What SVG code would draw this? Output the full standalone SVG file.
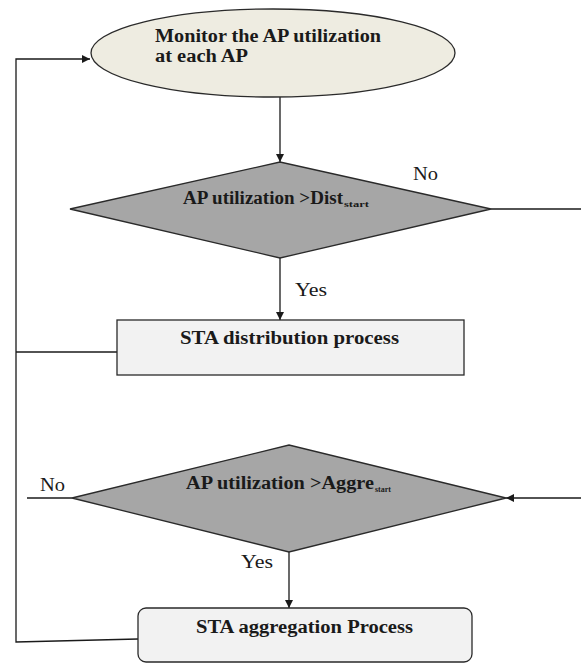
<svg xmlns="http://www.w3.org/2000/svg" width="581" height="663" viewBox="0 0 581 663">
<style>
.bold{font-family:"Liberation Serif","Times New Roman",serif;font-weight:bold;fill:#1a1a1a}
.reg{font-family:"Liberation Serif","Times New Roman",serif;fill:#1a1a1a;font-size:18px}
.sub{font-size:9px}
.edge{stroke:#1a1a1a;stroke-width:1.3;fill:none}
.shape{stroke:#2a2a2a;stroke-width:1.3}
</style>
<defs>
<marker id="arr" viewBox="0 0 10 10" refX="10" refY="5" markerWidth="8" markerHeight="8" markerUnits="userSpaceOnUse" orient="auto">
<path d="M0,0 L10,5 L0,10 z" fill="#1a1a1a"/>
</marker>
</defs>
<rect width="581" height="663" fill="#ffffff"/>
<g id="connectors">
<line class="edge" x1="280" y1="97" x2="280" y2="162" marker-end="url(#arr)"/>
<line class="edge" x1="491" y1="209" x2="581" y2="209"/>
<line class="edge" x1="280" y1="258" x2="280" y2="320" marker-end="url(#arr)"/>
<line class="edge" x1="117" y1="352" x2="16" y2="352"/>
<line class="edge" x1="581" y1="498" x2="506" y2="498" marker-end="url(#arr)"/>
<line class="edge" x1="72" y1="498" x2="27" y2="498"/>
<line class="edge" x1="289" y1="552" x2="289" y2="608" marker-end="url(#arr)"/>
<polyline class="edge" points="138,639 16,642 16,59 90,59" marker-end="url(#arr)"/>
<text class="reg" x="413" y="180" textLength="25" lengthAdjust="spacingAndGlyphs">No</text>
<text class="reg" x="295" y="296" textLength="32" lengthAdjust="spacingAndGlyphs">Yes</text>
<text class="reg" x="40" y="491" textLength="25" lengthAdjust="spacingAndGlyphs">No</text>
<text class="reg" x="241" y="568" textLength="32" lengthAdjust="spacingAndGlyphs">Yes</text>
</g>
<g id="monitor">
<ellipse class="shape" cx="273" cy="53" rx="182" ry="44" fill="#eeece1"/>
<text class="bold" font-size="18" x="155" y="42" textLength="226" lengthAdjust="spacingAndGlyphs">Monitor the AP utilization</text>
<text class="bold" font-size="18" x="155" y="62" textLength="93" lengthAdjust="spacingAndGlyphs">at each AP</text>
</g>
<g id="decision-dist">
<polygon class="shape" points="70,209 280,162 491,209 280,258" fill="#a6a6a6"/>
<text class="bold" font-size="18" x="183" y="204"><tspan textLength="160" lengthAdjust="spacingAndGlyphs">AP utilization &gt;Dist</tspan><tspan class="sub" dy="3" x="344" textLength="25" lengthAdjust="spacingAndGlyphs">start</tspan></text>
</g>
<g id="distribution">
<rect class="shape" x="117" y="320" width="347" height="55" fill="#f2f2f2"/>
<text class="bold" font-size="18" x="180" y="344" textLength="219" lengthAdjust="spacingAndGlyphs">STA distribution process</text>
</g>
<g id="decision-aggre">
<polygon class="shape" points="72,498 289,445 506,498 289,552" fill="#a6a6a6"/>
<text class="bold" font-size="18" x="186" y="489"><tspan textLength="188" lengthAdjust="spacingAndGlyphs">AP utilization &gt;Aggre</tspan><tspan class="sub" dy="3" x="375" textLength="16" lengthAdjust="spacingAndGlyphs">start</tspan></text>
</g>
<g id="aggregation">
<rect class="shape" x="138" y="608" width="334" height="54" rx="8" ry="8" fill="#f2f2f2"/>
<text class="bold" font-size="18" x="196" y="633" textLength="217" lengthAdjust="spacingAndGlyphs">STA aggregation Process</text>
</g>
</svg>
